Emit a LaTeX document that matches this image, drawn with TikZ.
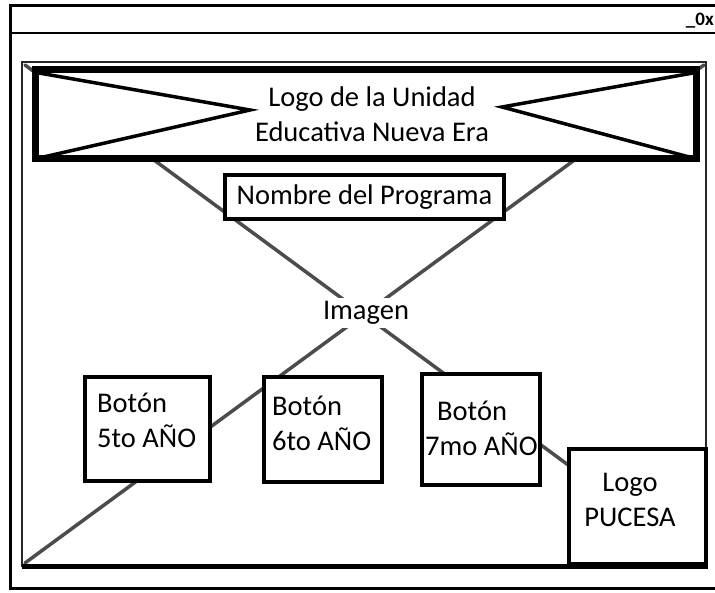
\documentclass[tikz,border=0pt]{standalone}
\usepackage{fontspec}
\setmainfont{Carlito}
\begin{document}
\begin{tikzpicture}[x=1pt,y=-1pt,
  box/.style={draw=black,line width=4pt,fill=white,inner sep=0pt},
  lbl/.style={inner sep=0pt,anchor=base west,font=\fontsize{28.5}{35}\selectfont},
  bgline/.style={draw=black!70,line width=3.5pt,line cap=round},
  logoline/.style={draw=black,line width=3.5pt}]
\useasboundingbox (0,0) rectangle (715,592);
% window
\coordinate (wtl) at (10,5);
\coordinate (wtr) at (718,5);
\coordinate (wbl) at (10,588);
\coordinate (wbr) at (718,588);
\coordinate (ttl) at (10,33);
\coordinate (ttr) at (718,33);
\draw[line width=3pt] (wtr) -- (wtl) -- (wbl) -- (wbr);
\draw[line width=2.5pt] (ttl) -- (ttr);
\node[inner sep=0pt,anchor=base east,font=\fontsize{19}{19}\selectfont\bfseries] (ctl) at (714,25) {\_0x};
% inner frame
\node[draw=black!85,line width=2pt,minimum width=684pt,minimum height=504pt,inner sep=0pt] (frame) at (364,314) {};
% background X
\coordinate (xa) at (25,65);
\coordinate (xb) at (704,565);
\coordinate (xc) at (704,65);
\coordinate (xd) at (25,563);
\draw[bgline] (xa) -- (xb);
\draw[bgline] (xc) -- (xd);
% logo box
\node[draw=black,line width=7pt,fill=white,minimum width=661pt,minimum height=89pt,inner sep=0pt] (logo) at (366,114) {};
\coordinate (l1) at (39,73);
\coordinate (l2) at (39,158);
\coordinate (lp) at (250,110);
\coordinate (r1) at (693,73);
\coordinate (r2) at (693,158);
\coordinate (rp) at (502,107);
\draw[logoline] (l1) -- (lp) -- (l2);
\draw[logoline] (r1) -- (rp) -- (r2);
\node[inner sep=0pt,align=center,font=\fontsize{28.5}{35}\selectfont] (logotxt) at (372,114) {Logo de la Unidad\\Educativa Nueva Era};
% nombre
\node[box,minimum width=279pt,minimum height=44pt,font=\fontsize{28.5}{35}\selectfont] (nombre) at (364.5,197) {Nombre del Programa};
% imagen
\node[fill=white,inner sep=3pt,font=\fontsize{28.5}{35}\selectfont] (imagen) at (366,313) {Imagen};
% buttons
\node[box,minimum width=125pt,minimum height=104pt] (b5) at (147.5,429) {};
\node[lbl] (b5a) at (97,412) {Botón};
\node[lbl] (b5b) at (97,447) {5to AÑO};
\node[box,minimum width=118pt,minimum height=105pt] (b6) at (323,429.5) {};
\node[lbl] (b6a) at (272,415) {Botón};
\node[lbl] (b6b) at (272,450) {6to AÑO};
\node[box,minimum width=118pt,minimum height=111pt] (b7) at (481,429.5) {};
\node[lbl] (b7a) at (437,420) {Botón};
\node[lbl] (b7b) at (425,455) {7mo AÑO};
% logo pucesa
\node[box,minimum width=137pt,minimum height=115pt] (puc) at (637.5,506) {};
\node[inner sep=0pt,align=center,font=\fontsize{28.5}{35}\selectfont] (puctxt) at (630,500) {Logo\\PUCESA};
\coordinate (fbl) at (22,566.5);
\coordinate (fbr) at (708,566.5);
\draw[line width=5pt] (fbl) -- (fbr);
\end{tikzpicture}
\end{document}
